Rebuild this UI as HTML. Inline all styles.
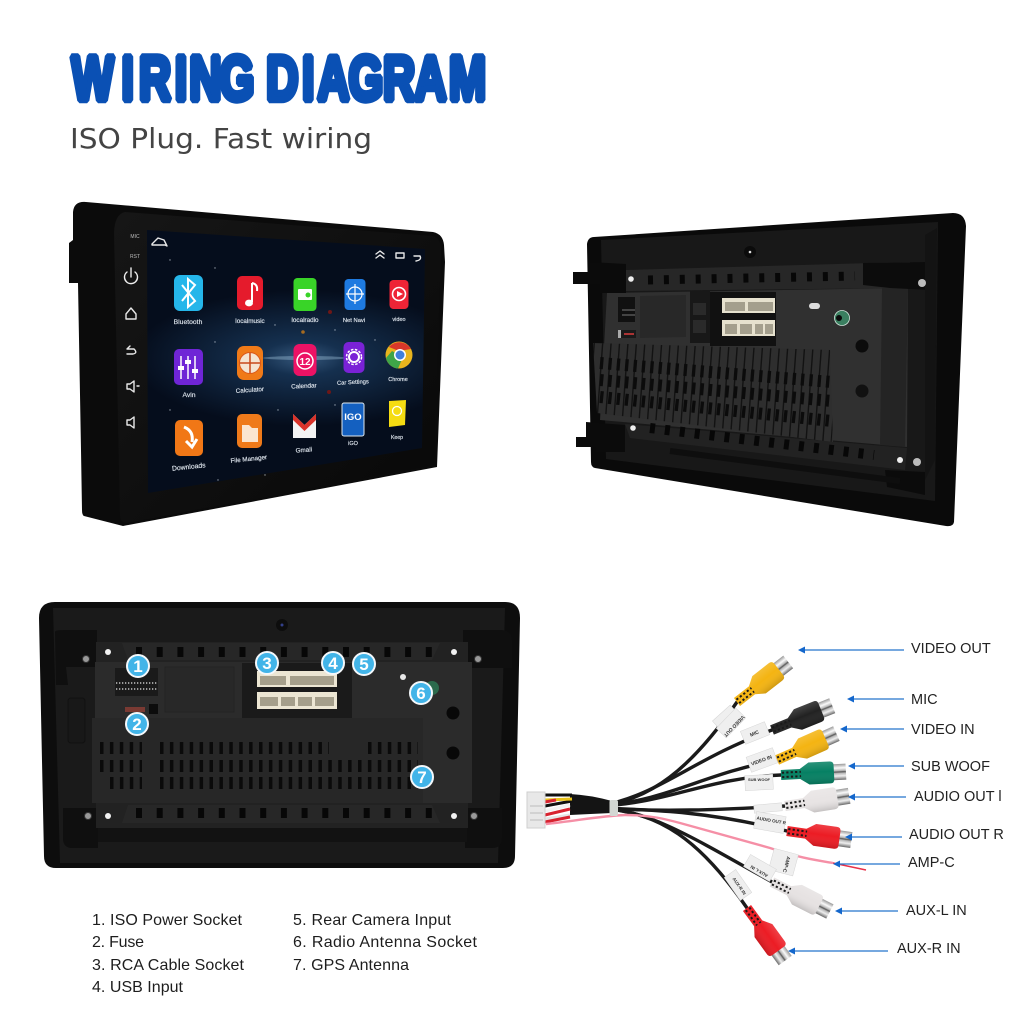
<!DOCTYPE html>
<html><head><meta charset="utf-8"><title>Wiring Diagram</title>
<style>html,body{margin:0;padding:0;background:#fff}svg{display:block}
.a{font:400 6.800px "Liberation Sans",sans-serif;fill:#dfe6ee;text-anchor:middle;stroke:#dfe6ee;stroke-width:.15}
.l{font:14.500px "Liberation Sans",sans-serif;fill:#222}
.k{font:16px "Liberation Sans",sans-serif;fill:#1d1d1d}
.t{font:700 5px "Liberation Sans",sans-serif;fill:#333;text-anchor:middle}
.n{font:700 17px "Liberation Sans",sans-serif;fill:#fff;text-anchor:middle}
</style></head><body>
<svg xmlns="http://www.w3.org/2000/svg" width="1024" height="1024" viewBox="0 0 1024 1024">
<defs>
<radialGradient id="sc" gradientUnits="userSpaceOnUse" cx="303" cy="358" r="170" gradientTransform="translate(0 215) scale(1 .4)"><stop offset="0" stop-color="#36587c"/><stop offset=".25" stop-color="#15304f"/><stop offset="1" stop-color="#050d1c"/></radialGradient>
<linearGradient id="metal" x1="0" y1="0" x2="0" y2="1"><stop offset="0" stop-color="#9a9a9a"/><stop offset=".25" stop-color="#fafafa"/><stop offset=".42" stop-color="#b8b8b8"/><stop offset=".5" stop-color="#555"/><stop offset=".58" stop-color="#b8b8b8"/><stop offset=".75" stop-color="#eee"/><stop offset="1" stop-color="#6a6a6a"/></linearGradient>
<linearGradient id="shade" x1="0" y1="0" x2="0" y2="1"><stop offset="0" stop-color="#fff" stop-opacity=".15"/><stop offset=".45" stop-color="#fff" stop-opacity="0"/><stop offset="1" stop-color="#000" stop-opacity=".15"/></linearGradient>
<linearGradient id="frame" x1="0" y1="0" x2="1" y2="1"><stop offset="0" stop-color="#161616"/><stop offset="1" stop-color="#080808"/></linearGradient>
<symbol id="plug" overflow="visible" viewBox="0 0 66 24" width="66" height="24">
<g transform="translate(0 12)">
<rect x="50" y="-8" width="15" height="16" fill="url(#metal)"/>
<path d="M0-5H19L28-11H49Q53-11 53-7V7Q53 11 49 11H28L19 5H0Z" fill="currentColor"/>
<path d="M0-5H19L28-11H49Q53-11 53-7V7Q53 11 49 11H28L19 5H0Z" fill="url(#shade)"/>
<path d="M1-2.200H20M1 2.200H20" stroke="#1a1a1a" stroke-width="2" stroke-dasharray="2.200 2.200"/>
</g></symbol>
<clipPath id="hs"><path d="M593 343L830 350 833 442 597 413Z"/></clipPath>
</defs>
<rect width="1024" height="1024" fill="#fff"/>

<text transform="scale(.71 1)" x="100.700 171.100 195.600 246.200 266.500 309.300 365 374.800 425.400 446.800 490.800 539.300 583.700 632.300" y="100" font-family="Liberation Sans" font-weight="700" font-size="63" fill="#0a50b4" stroke="#0a50b4" stroke-width="6.500" stroke-linejoin="bevel">WIRING DIAGRAM</text>
<text x="70" y="148" font-family="DejaVu Sans" font-size="28" fill="#444" textLength="302" lengthAdjust="spacingAndGlyphs">ISO Plug. Fast wiring</text>

<!-- FRONT UNIT -->
<path d="M73 212Q74 201 86 202L433 232Q443 234 444 245L445 262 437 467 123 526 84 516Q82 515 82 510L81 450 78 283 69 283 69 243 73 240Z" fill="#0b0b0b"/>
<path d="M125 212L432 236Q441 238 441 250L434 465 126 523Q120 522 120 515L114 232Q115 214 125 212Z" fill="url(#frame)"/>
<path d="M147 230L425 249 422 448 148 493Z" fill="url(#sc)"/>
<g fill="#cfd8e2" opacity=".7"><circle cx="170" cy="260" r=".7"/><circle cx="215" cy="268" r=".7"/><circle cx="275" cy="325" r=".7"/><circle cx="335" cy="330" r=".7"/><circle cx="215" cy="342" r=".7"/><circle cx="278" cy="410" r=".7"/><circle cx="335" cy="405" r=".7"/><circle cx="375" cy="340" r=".7"/><circle cx="170" cy="410" r=".7"/><circle cx="218" cy="480" r=".7"/><circle cx="265" cy="475" r=".7"/></g>
<circle cx="330" cy="312" r="2" fill="#6d1717"/><circle cx="329" cy="392" r="2" fill="#6d1717"/><circle cx="303" cy="332" r="1.800" fill="#a66b20"/>
<ellipse cx="305" cy="358" rx="42" ry="2" fill="#b3d3ea" opacity=".35"/>
<g fill="none" stroke="#e8e8e8" stroke-width="1.400" stroke-linecap="round" stroke-linejoin="round">
<path d="M152 244L158 238 164 240 167 246 165 245 152 245Z"/>
<path d="M376 254L380 251 384 254M376 258L380 255 384 258"/><rect x="396" y="253" width="8" height="5"/><path d="M414 256H420Q422 260 416 261"/>
<path d="M127 272A6.500 6.500 0 1 0 135 272M131 268V277" stroke="#eee"/>
<path d="M126 314L131 308 136 314V319H126Z"/>
<path d="M127 349H134Q138 353 133 354H127M127 349L130 346"/>
<path d="M127 384V389L130 389 134 392V381L130 384ZM137 386H139"/>
<path d="M127 420V425L130 425 134 428V417L130 420Z"/>
</g>
<text x="135" y="238" font-family="Liberation Sans" font-size="5" fill="#bbb" text-anchor="middle">MIC</text>
<text x="135" y="258" font-family="Liberation Sans" font-size="5" fill="#bbb" text-anchor="middle">RST</text>

<rect x="174" y="275" width="29" height="36" rx="6" fill="#25b6ea"/><path d="M182 285L195 301 188 307V279L195 285 182 301" fill="none" stroke="#fff" stroke-width="2"/>
<rect x="237" y="276" width="26" height="34" rx="5" fill="#e51b2c"/><path d="M252 283V302" stroke="#fff" stroke-width="2"/><ellipse cx="249" cy="303" rx="4" ry="3.400" fill="#fff"/><path d="M252 283Q258 284 257 291" fill="none" stroke="#fff" stroke-width="2"/>
<rect x="293.500" y="278" width="23" height="33" rx="4" fill="#39d428"/><rect x="298" y="289" width="14" height="11" rx="1" fill="#fff"/><circle cx="308" cy="295" r="2.500" fill="#39d428"/>
<rect x="344.500" y="279" width="21" height="31" rx="4" fill="#1e7ae0"/><circle cx="355" cy="294" r="7" fill="none" stroke="#fff" stroke-width="1.200"/><path d="M355 284V304M346 294H364" stroke="#fff" stroke-width="1.200"/>
<rect x="389.500" y="280" width="19" height="29" rx="4" fill="#ee2436"/><circle cx="399" cy="294" r="6.500" fill="none" stroke="#fff" stroke-width="1.600"/><path d="M397 291L403 294 397 297Z" fill="#fff"/>
<rect x="174" y="349" width="29" height="36" rx="5" fill="#6f25d6"/><path d="M181 356V379M188 356V379M195 356V379" stroke="#fff" stroke-width="1.500"/><path d="M178 368H184M185 362H191M192 371H198" stroke="#fff" stroke-width="4"/>
<rect x="237" y="346" width="26" height="34" rx="7" fill="#f07a18"/><circle cx="250" cy="363" r="10.500" fill="#f5e5d2" stroke="#d9581a"/><path d="M250 353V373M240 363H260" stroke="#c9491b" stroke-width="1.500"/>
<rect x="293.500" y="344" width="23" height="32" rx="6" fill="#ec1265"/><circle cx="305" cy="361" r="8" fill="none" stroke="#fff" stroke-width="1.500"/><text x="305" y="365" font-family="Liberation Sans" font-weight="700" font-size="10" fill="#fff" text-anchor="middle">12</text>
<rect x="343.500" y="342" width="21" height="31" rx="5" fill="#7a22d6"/><circle cx="354" cy="357" r="5" fill="none" stroke="#fff" stroke-width="2"/><circle cx="354" cy="357" r="7.500" fill="none" stroke="#fff" stroke-width="1.500" stroke-dasharray="2.500 1.500"/>
<circle cx="399" cy="355" r="13.500" fill="#e8b41d"/><path d="M389 347A13.500 13.500 0 0 1 411 349L399 351Z" fill="#d8372a"/><path d="M386 358A13.500 13.500 0 0 0 398 368.500L403 357 392 351Z" fill="#3fa548"/><circle cx="400" cy="355" r="6" fill="#fff"/><circle cx="400" cy="355" r="4.500" fill="#3f7fdc"/>
<rect x="175" y="420" width="28" height="36" rx="5" fill="#f17716"/><path d="M184 427Q194 431 192 442M186 441L192 447 197 439" fill="none" stroke="#fff" stroke-width="3"/>
<rect x="237" y="414" width="25" height="34" rx="5" fill="#ef7a1a"/><path d="M242 425H249L252 428H258V442H242Z" fill="#fbe5cf"/>
<path d="M293 414V438H316V414L304.500 425Z" fill="#f3f3f3"/><path d="M293 414L304.500 425 316 414V420L304.500 431 293 420Z" fill="#d9332a"/>
<rect x="342" y="403" width="22" height="33" rx="2" fill="#1460c0" stroke="#dfe8ee"/><text x="353" y="420" font-family="Liberation Sans" font-weight="700" font-size="9.500" fill="#fff" text-anchor="middle">IGO</text>
<path d="M389 401L406 400 405 425 389 427Z" fill="#f5dc12"/><circle cx="397" cy="411" r="4.500" fill="none" stroke="#fff" stroke-width="1.300"/>

<text class="a" x="188" y="324">Bluetooth</text><text class="a" x="250" y="323" style="font-size:6.300px">localmusic</text><text class="a" x="305" y="322" style="font-size:6.300px">localradio</text><text class="a" x="354" y="322" style="font-size:5.800px">Net Navi</text><text class="a" x="399" y="321" style="font-size:5.500px">video</text>
<text class="a" x="189" y="397">Avin</text><text class="a" transform="translate(250 392) rotate(-4)" style="font-size:6.300px">Calculator</text><text class="a" transform="translate(304 388) rotate(-3)" style="font-size:6.300px">Calendar</text><text class="a" transform="translate(353 384) rotate(-3)" style="font-size:5.800px">Car Settings</text><text class="a" x="398" y="381" style="font-size:5.500px">Chrome</text>
<text class="a" transform="translate(189 469) rotate(-6)">Downloads</text><text class="a" transform="translate(249 461) rotate(-6)" style="font-size:6.300px">File Manager</text><text class="a" transform="translate(304 452) rotate(-4)" style="font-size:6.300px">Gmail</text><text class="a" x="353" y="445" style="font-size:5.500px">iGO</text><text class="a" x="397" y="439" style="font-size:5.200px">Keep</text>

<!-- BACK UNIT -->
<path d="M587 244Q588 237 594 237L953 213Q965 213 966 226L954 522Q953 527 946 526L595 468Q591 467 591 462Z" fill="#0a0a0a"/>
<path d="M601 240L938 222 935 501 606 459Z" fill="#181818"/>
<circle cx="750" cy="252" r="6" fill="#0b0b0b"/><circle cx="750" cy="252" r="1.300" fill="#ddd"/>
<path d="M625 270L910 262V288L625 291Z" fill="#272727"/>
<path d="M607 293L908 288 907 447 600 420Z" fill="#303030"/>
<path d="M625 424L907 448 905 470 630 438Z" fill="#222"/>
<path d="M648 280L855 276" stroke="#070707" stroke-width="9" stroke-dasharray="5 10.900"/>
<path d="M650 428L874 455" stroke="#070707" stroke-width="10" stroke-dasharray="5 10"/>
<path d="M882 288L908 288 905 447 880 445Z" fill="#242424"/>
<path d="M573 272L590 272 590 262 626 264V293H600V284H573ZM576 437L586 437 586 422 625 425V452L596 452V447H576Z" fill="#0b0b0b"/>
<path d="M863 263L930 262V290L890 288 863 285Z" fill="#0c0c0c"/>
<path d="M925 235L937 228 935 460 925 480Z" fill="#131313"/>
<path d="M885 470L925 472 925 495 887 487Z" fill="#0b0b0b"/>
<path d="M640 296L686 295V337L640 338Z" fill="#282828"/>
<path d="M690 291L710 290V343H690Z" fill="#181818"/><path d="M693 303H706V315H693ZM693 320H706V333H693Z" fill="#2a2a2a"/>
<path d="M710 292H776V346H710Z" fill="#111"/>
<path d="M618 297H635V322H618Z" fill="#111"/><path d="M622 310H635M622 315H635" stroke="#777" stroke-width="1"/>
<rect x="618" y="330" width="18" height="8" fill="#1a1a1a"/><rect x="618" y="330" width="3" height="8" fill="#aaa"/><rect x="624" y="333" width="10" height="2" fill="#a33"/>
<path d="M722 298H775V313H722Z" fill="#e6e1ce"/><path d="M725 302H745V311H725ZM748 302H773V311H748Z" fill="#a49f8d"/>
<path d="M722 320H775V336H722Z" fill="#e6e1ce"/><path d="M725 324H737V334H725ZM740 324H752V334H740ZM755 324H763V334H755ZM765 324H773V334H765Z" fill="#a49f8d"/>
<path d="M593 343L830 350 833 442 597 413Z" fill="#2e2e2e"/>
<g clip-path="url(#hs)">
<path d="M591 378L835 396" stroke="#121212" stroke-width="105" stroke-dasharray="1.400 7"/>
<path d="M600 363L832 382" stroke="#0b0b0b" stroke-width="12" stroke-dasharray="3.300 5.100"/>
<path d="M600 380L832 401" stroke="#0b0b0b" stroke-width="12" stroke-dasharray="3.300 5.100"/>
<path d="M600 397L832 421" stroke="#0b0b0b" stroke-width="12" stroke-dasharray="3.300 5.100"/>
</g>
<rect x="809" y="303" width="11" height="6" rx="3" fill="#dcdcdc"/>
<circle cx="842" cy="318" r="7.500" fill="#3a7f60" stroke="#cfe5da" stroke-width=".8"/><circle cx="839" cy="318" r="3" fill="#0a0a0a"/>
<circle cx="862" cy="346" r="6.500" fill="#0b0b0b"/><circle cx="862" cy="391" r="6.500" fill="#111"/>
<g fill="#bbb"><circle cx="922" cy="283" r="4"/><circle cx="917" cy="462" r="4"/></g>
<g fill="#eee"><circle cx="631" cy="279" r="2.800"/><circle cx="633" cy="428" r="2.800"/><circle cx="900" cy="460" r="3"/></g>
<path d="M670 451L900 481" stroke="#0e0e0e" stroke-width="6"/>

<!-- REAR FLAT -->
<path d="M39 618Q39 602 55 602H505Q520 602 520 618L515 856Q515 868 503 868H56Q44 868 44 856Z" fill="#0d0d0d"/>
<path d="M53 608H505L498 863H60Z" fill="#1a1a1a"/>
<circle cx="282" cy="625" r="6" fill="#0d0d0d"/><circle cx="282" cy="625" r="1.500" fill="#33408a"/>
<path d="M55 632Q55 630 65 630H97V667H66L68 685H56ZM463 630H500Q512 630 512 640V668H463ZM63 808H98V848H72Q63 848 63 838ZM465 808H502V838Q502 848 492 848H465Z" fill="#0f0f0f"/>
<rect x="68" y="698" width="17" height="45" rx="3" fill="#181818" stroke="#111"/>
<rect x="98" y="826" width="369" height="16" fill="#121212"/>
<rect x="96" y="642" width="372" height="24" fill="#222"/>
<rect x="95" y="662" width="377" height="141" fill="#2b2b2b"/>
<rect x="96" y="803" width="372" height="25" fill="#222"/>
<path d="M122 643H440L432 660H128ZM122 823H440L432 805H128Z" fill="#272727"/>
<path d="M136 652H432M136 813H432" stroke="#070707" stroke-width="10" stroke-dasharray="6 14.700"/>
<rect x="92" y="718" width="331" height="85" fill="#272727"/>
<rect x="242" y="663" width="110" height="55" fill="#1a1a1a"/>
<rect x="165" y="667" width="69" height="45" fill="#282828" stroke="#232323"/>
<rect x="115" y="668" width="43" height="28" fill="#1a1a1a"/><path d="M116 683H157M116 689H157" stroke="#e8e8e8" stroke-width="1.200" stroke-dasharray="1.300 1.700"/>
<rect x="125" y="707" width="20" height="5" fill="#7a3a33"/><rect x="149" y="704" width="9" height="10" fill="#0c0c0c"/>
<rect x="257" y="671" width="80" height="16" fill="#ece6d3"/><path d="M260 676H286V685H260ZM290 676H334V685H290Z" fill="#a59f8b"/>
<rect x="257" y="692" width="80" height="17" fill="#ece6d3"/><path d="M260 697H278V706H260ZM281 697H295V706H281ZM298 697H312V706H298ZM315 697H334V706H315Z" fill="#a59f8b"/>
<g stroke="#0a0a0a" stroke-width="12" stroke-dasharray="3.500 6.400">
<path d="M160 748H329M368 748H418M100 748H142"/>
<path d="M160 766H418M100 766H142"/>
<path d="M160 783H418M110 783H142"/>
</g>
<circle cx="432" cy="688" r="7" fill="#2c6a4d"/>
<circle cx="403" cy="677" r="3" fill="#e8e8e8"/>
<circle cx="453" cy="713" r="6.500" fill="#080808"/><circle cx="453" cy="753" r="6.500" fill="#080808"/>
<g fill="#999" stroke="#333"><circle cx="86" cy="659" r="3.500"/><circle cx="478" cy="659" r="3.500"/><circle cx="88" cy="816" r="3.500"/><circle cx="474" cy="816" r="3.500"/></g>
<g fill="#f2f2f2"><circle cx="108" cy="652" r="3"/><circle cx="454" cy="652" r="3"/><circle cx="108" cy="816" r="3"/><circle cx="454" cy="816" r="3"/></g>
<g fill="#42b4e8" stroke="#f4f8fb" stroke-width="2"><circle cx="138" cy="666" r="11"/><circle cx="137" cy="724" r="11"/><circle cx="267" cy="663" r="11"/><circle cx="333" cy="663" r="11"/><circle cx="364" cy="664" r="11"/><circle cx="421" cy="693" r="11"/><circle cx="422" cy="777" r="11"/></g>
<text class="n" x="138" y="672">1</text><text class="n" x="137" y="730">2</text><text class="n" x="267" y="669">3</text><text class="n" x="333" y="669">4</text><text class="n" x="364" y="670">5</text><text class="n" x="421" y="699">6</text><text class="n" x="422" y="783">7</text>

<!-- CABLES -->
<g fill="none" stroke="#1b1b1b" stroke-width="3.400" stroke-linecap="round">
<path d="M600 806C650 800 690 770 737 702"/>
<path d="M600 806C660 795 690 760 772 730"/>
<path d="M600 806C670 800 700 775 777 760"/>
<path d="M600 806C670 803 705 778 781 775"/>
<path d="M600 808C660 812 720 810 785 806"/>
<path d="M600 808C660 810 710 812 787 831"/>
<path d="M600 808C650 812 680 830 772 882"/>
<path d="M600 808C660 812 700 840 747 908"/>
</g>
<path d="M625 815C650 815 665 819 680 823L770 848C800 858 815 860 833 863" fill="none" stroke="#f58fa6" stroke-width="2.400"/>
<path d="M833 863L866 870" stroke="#e8324a" stroke-width="1.500"/>
<path d="M570 794Q590 795 612 801V813Q590 814 570 815Z" fill="#141414"/>
<g fill="none" stroke-width="3">
<path d="M544 795H572" stroke="#111"/><path d="M545 806L572 801" stroke="#111"/>
<path d="M545 800L572 799" stroke="#e9c21a"/><path d="M545 802L556 800" stroke="#d8232f"/>
<path d="M545 811L570 805" stroke="#f2f2f2"/><path d="M545 815L570 809" stroke="#d8232f"/>
<path d="M545 819L570 815" stroke="#e5e5e5"/><path d="M545 822L570 817" stroke="#d8232f"/>
</g>
<path d="M546 824C575 821 600 816 625 815" fill="none" stroke="#f58fa6" stroke-width="2.400"/>
<rect x="527" y="792" width="18" height="36" fill="#e8e8e8" stroke="#cfcfcf"/>
<path d="M530 806H543M530 813H543M530 820H543" stroke="#bbb"/>
<rect x="609.500" y="800" width="8.500" height="16" rx="2" fill="#d3d7d3"/>
<use href="#plug" transform="translate(737 702) rotate(-38) translate(0 -12)" style="color:#f4b412"/>
<use href="#plug" transform="translate(772 730) rotate(-22) translate(0 -12)" style="color:#222"/>
<use href="#plug" transform="translate(777 760) rotate(-24) translate(0 -12)" style="color:#f4b412"/>
<use href="#plug" transform="translate(781 775) rotate(-3) translate(0 -12)" style="color:#068063"/>
<use href="#plug" transform="translate(785 806) rotate(-9) translate(0 -12)" style="color:#e8e4e4"/>
<use href="#plug" transform="translate(787 831) rotate(8) translate(0 -12)" style="color:#ec1c24"/>
<use href="#plug" transform="translate(772 882) rotate(27) translate(0 -12)" style="color:#e6e2e2"/>
<use href="#plug" transform="translate(747 908) rotate(54) translate(0 -12)" style="color:#ec1c24"/>
<g fill="#efefef" stroke="#d5d5d5" stroke-width=".5">
<rect x="712" y="712" width="24" height="9" transform="rotate(-42 724 716)"/><rect x="717" y="716" width="28" height="14" transform="rotate(-46 731 723)"/>
<rect x="742" y="726" width="26" height="14" transform="rotate(-22 755 733)"/><rect x="748" y="752" width="28" height="16" transform="rotate(-20 762 760)"/>
<rect x="745" y="775" width="28" height="15" transform="rotate(-3 759 782)"/><rect x="754" y="804" width="28" height="8" transform="rotate(-5 768 808)"/>
<rect x="755" y="814" width="30" height="17" transform="rotate(10 770 822)"/><rect x="771" y="851" width="25" height="22" transform="rotate(15 783 862)"/>
<rect x="745" y="861" width="30" height="14" transform="rotate(30 760 868)"/><rect x="724" y="878" width="28" height="14" transform="rotate(55 738 885)"/>
</g>
<text class="t" transform="translate(733 725) rotate(134)">VIDEO OUT</text><text class="t" transform="translate(755 735) rotate(-22)">MIC</text><text class="t" transform="translate(762 762) rotate(-20)">VIDEO IN</text><text class="t" transform="translate(759 781)" style="font-size:4px">SUB WOOF</text><text class="t" transform="translate(771 822) rotate(10)" style="font-size:4.500px">AUDIO OUT R</text><text class="t" transform="translate(785 864) rotate(105)">AMP-C</text><text class="t" transform="translate(760 870) rotate(210)" style="font-size:4.500px">AUX-L IN</text><text class="t" transform="translate(738 887) rotate(55)" style="font-size:4.500px">AUX-R IN</text>

<!-- ARROWS -->
<g stroke="#2473cc" stroke-width="1.200"><path d="M803 650H904M852 699H904M845 729H904M853 766H904M853 797H906M850 837H902M838 864H900M840 911H898M793 951H888"/></g>
<g fill="#1467cc"><path d="M798 650l7-3.500v7ZM847 699l7-3.500v7ZM840 729l7-3.500v7ZM848 766l7-3.500v7ZM848 797l7-3.500v7ZM845 837l7-3.500v7ZM833 864l7-3.500v7ZM835 911l7-3.500v7ZM788 951l7-3.500v7Z"/></g>
<text class="l" x="911" y="653">VIDEO OUT</text><text class="l" x="911" y="704">MIC</text><text class="l" x="911" y="734">VIDEO IN</text><text class="l" x="911" y="771">SUB WOOF</text><text class="l" x="914" y="801">AUDIO OUT l</text><text class="l" x="909" y="839">AUDIO OUT R</text><text class="l" x="908" y="867">AMP-C</text><text class="l" x="906" y="915">AUX-L IN</text><text class="l" x="897" y="953">AUX-R IN</text>

<text class="k" x="92" y="925" textLength="150">1. ISO Power Socket</text>
<text class="k" x="92" y="947" textLength="52">2. Fuse</text>
<text class="k" x="92" y="970" textLength="152">3. RCA Cable Socket</text>
<text class="k" x="92" y="992" textLength="91">4. USB Input</text>
<text class="k" x="293" y="925" textLength="158">5. Rear Camera Input</text>
<text class="k" x="293" y="947" textLength="184">6. Radio Antenna Socket</text>
<text class="k" x="293" y="970" textLength="116">7. GPS Antenna</text>
</svg>
</body></html>
